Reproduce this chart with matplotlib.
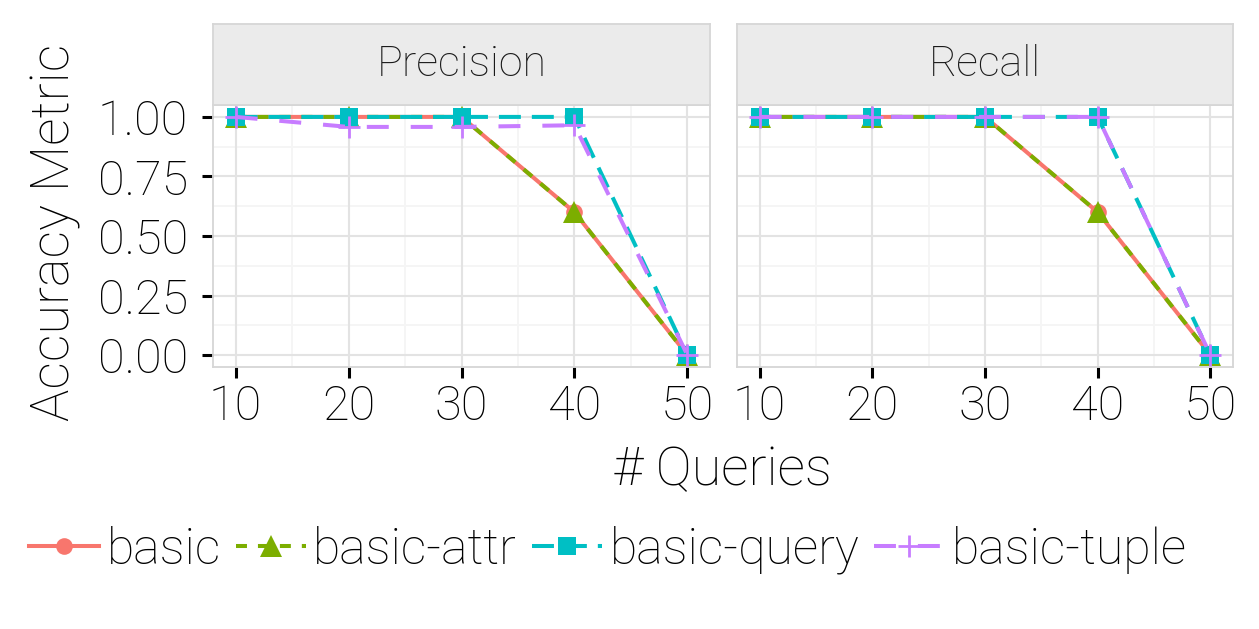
import matplotlib
matplotlib.use("Agg")
import matplotlib.pyplot as plt
from matplotlib.lines import Line2D

plt.rcParams['font.family'] = ['Roboto', 'DejaVu Sans']
plt.rcParams['font.weight'] = 'light'
plt.rcParams['lines.scale_dashes'] = False

queries = [10, 20, 30, 40, 50]
panels = ["Precision", "Recall"]
series = ["basic", "basic-attr", "basic-query", "basic-tuple"]

precision_basic = [1.0, 1.0, 1.0, 0.6, 0.0]
precision_attr = [1.0, 1.0, 1.0, 0.6, 0.0]
precision_query = [1.0, 1.0, 1.0, 1.0, 0.0]
precision_tuple = [1.0, 0.958, 0.958, 0.965, 0.0]

recall_basic = [1.0, 1.0, 1.0, 0.6, 0.0]
recall_attr = [1.0, 1.0, 1.0, 0.6, 0.0]
recall_query = [1.0, 1.0, 1.0, 1.0, 0.0]
recall_tuple = [1.0, 1.0, 1.0, 1.0, 0.0]

yticks = [0.0, 0.25, 0.5, 0.75, 1.0]
yticklabels = ["0.00", "0.25", "0.50", "0.75", "1.00"]

colors = ["#F8766D", "#7CAE00", "#00BFC4", "#C77CFF"]
markers = ["o", "^", "s", "+"]
msizes = [12, 16, 13.5, 16]
dashes = [None, (7.9, 7.9), (15.8, 7.9), (15.8, 15.8)]

data = {
    "Precision": [precision_basic, precision_attr, precision_query, precision_tuple],
    "Recall": [recall_basic, recall_attr, recall_query, recall_tuple],
}

W, H = 1259, 629
fig = plt.figure(figsize=(W / 100, H / 100), dpi=100)

def fx(px):
    return px / W

def fy(py):
    return 1 - py / H

panel_lefts = [213, 737]
panel_rights = [710, 1233]
ptop, pbot = 105, 367
stop = 24
FS = 35
grid_major = "#E3E3E3"
grid_minor = "#F5F5F5"

for i, name in enumerate(panels):
    l, r = panel_lefts[i], panel_rights[i]
    ax = fig.add_axes([fx(l), fy(pbot), fx(r - l), fy(ptop) - fy(pbot)])
    ax.set_xlim(8, 52)
    ax.set_ylim(-0.05, 1.05)
    for xm in [15, 25, 35, 45]:
        ax.axvline(xm, color=grid_minor, lw=1.4, zorder=0)
    for ym in [0.125, 0.375, 0.625, 0.875]:
        ax.axhline(ym, color=grid_minor, lw=1.4, zorder=0)
    for xm in queries:
        ax.axvline(xm, color=grid_major, lw=1.5, zorder=0.5)
    for ym in yticks:
        ax.axhline(ym, color=grid_major, lw=1.5, zorder=0.5)
    for k, s in enumerate(series):
        vals = data[name][k]
        ln, = ax.plot(queries, vals, color=colors[k], lw=2.9, marker=markers[k],
                      markersize=msizes[k], markeredgewidth=2.0 if markers[k] == "+" else 0,
                      markeredgecolor=colors[k], zorder=2 + k)
        if dashes[k] is not None:
            ln.set_dashes(dashes[k])
    ax.set_xticks(queries)
    ax.set_xticklabels([str(q) for q in queries], fontsize=FS)
    ax.set_yticks(yticks)
    if i == 0:
        ax.set_yticklabels(yticklabels, fontsize=FS)
    else:
        ax.set_yticklabels([])
    ax.tick_params(axis='x', length=8, width=2.2, color="black", pad=4)
    ax.tick_params(axis='y', length=8, width=2.2, color="black", pad=10)
    if i == 1:
        ax.tick_params(axis='y', length=0)
    for sp in ax.spines.values():
        sp.set_color("#D6D6D6")
        sp.set_linewidth(1.3)
    sax = fig.add_axes([fx(l), fy(ptop), fx(r - l), fy(stop) - fy(ptop)])
    sax.set_facecolor("#EBEBEB")
    sax.set_xticks([])
    sax.set_yticks([])
    for sp in sax.spines.values():
        sp.set_color("#D6D6D6")
        sp.set_linewidth(1.3)
    sax.text(0.5, 0.5, name, transform=sax.transAxes, ha="center", va="center",
             fontsize=31, color="#1A1A1A")

fig.text(fx(722), fy(470), "# Queries", ha="center", va="center", fontsize=39)
fig.text(fx(55), fy(232), "Accuracy Metric", ha="center", va="center",
         rotation=90, fontsize=39)

handles = []
for k, s in enumerate(series):
    h = Line2D([], [], color=colors[k], lw=2.9, marker=markers[k], markersize=msizes[k],
               markeredgewidth=2.0 if markers[k] == "+" else 0, markeredgecolor=colors[k])
    if dashes[k] is not None:
        h.set_dashes(dashes[k])
    handles.append(h)
fig.legend(handles, series, loc="center", bbox_to_anchor=(fx(608), fy(550)), ncol=4,
           frameon=False, fontsize=36, handlelength=1.4, handletextpad=0.15,
           columnspacing=0.3, borderaxespad=0)

fig.savefig("out.png", dpi=100, facecolor="white")
